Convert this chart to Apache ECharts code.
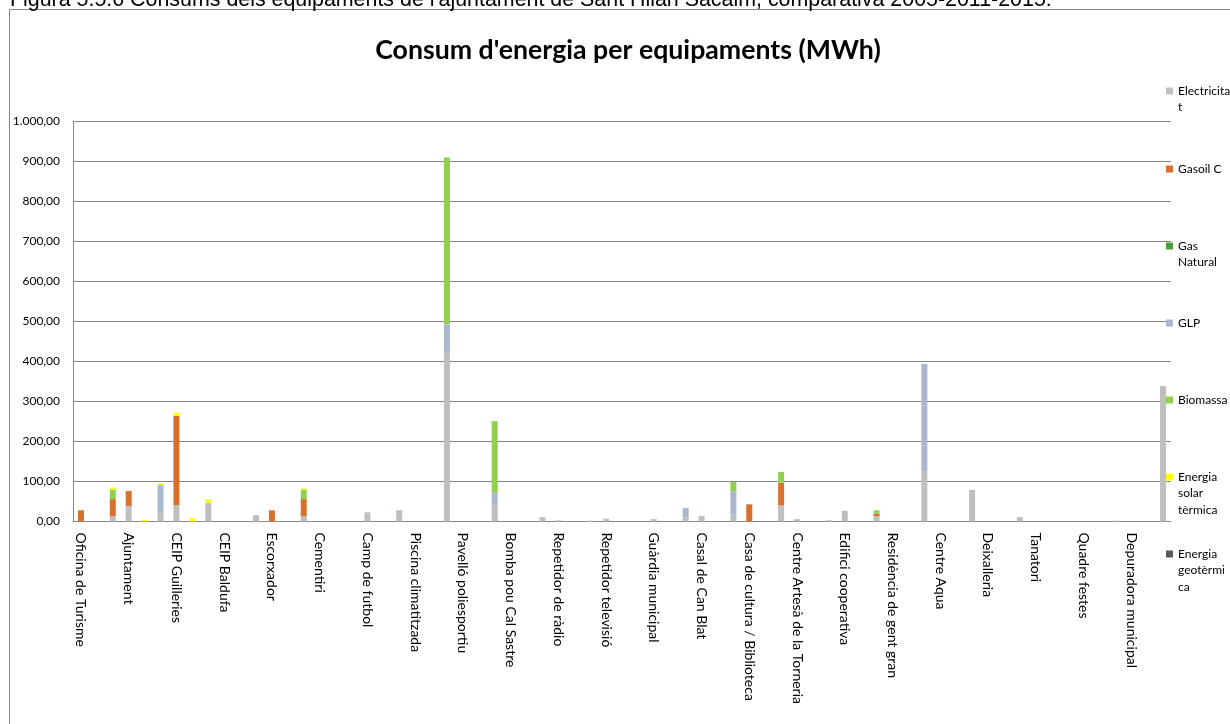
<!DOCTYPE html>
<html><head><meta charset="utf-8">
<script src="https://cdn.jsdelivr.net/npm/echarts@6/dist/echarts.min.js"></script>
<style>html,body{margin:0;padding:0;background:#fff}#c{width:1230px;height:724px}</style>
</head><body><div id="c"></div>
<script>
// Facilities (one tick label per group of 3 slots)
const facilities = ['Oficina de Turisme','Ajuntament','CEIP Guilleries','CEIP Baldufa','Escorxador','Cementiri','Camp de futbol','Piscina climatitzada','Pavelló poliesportiu','Bomba pou Cal Sastre','Repetidor de ràdio','Repetidor televisió','Guàrdia municipal','Casal de Can Blat','Casa de cultura / Biblioteca','Centre Artesà de la Torneria','Edifici cooperativa','Residència de gent gran','Centre Aqua','Deixalleria','Tanatori','Quadre festes','Depuradora municipal'];
const slotsPerFacility = 3;
const seriesNames = ['Electricitat','Gasoil C','Gas Natural','GLP','Biomassa','Energia solar tèrmica','Energia geotèrmica'];
const legendLabels = ['Electricita\nt','Gasoil C','Gas\nNatural','GLP','Biomassa','Energia\nsolar\ntèrmica','Energia\ngeotèrmi\nca'];
const yTicks = [0,100,200,300,400,500,600,700,800,900,1000];

// Values (MWh), 3 slots per facility
const electricitat = [0,0,13, 39,0,22, 41,0,47, 0,0,16, 0,0,13, 0,0,0, 23,0,21, 0,0,426, 0,0,43, 0,0,11, 3,0,2, 7,0,0, 6,0,10, 14,0,18, 0,0,40, 6,0,3, 27,0,13, 0,0,126, 0,0,79, 0,0,11, 0,0,0, 0,0,2, 0,0,339];
const gasoilC      = [28,0,43, 37,0,0, 223,0,0, 0,0,0, 28,0,43, 0,0,0, 0,0,0, 0,0,0, 0,0,0, 0,0,0, 0,0,0, 0,0,0, 0,0,0, 0,0,0, 43,0,57, 0,0,0, 0,0,7, 0,0,0, 0,0,0, 0,0,0, 0,0,0, 0,0,0, 0,0,0];
const gasNatural   = [0,0,0, 0,0,0, 0,0,0, 0,0,0, 0,0,0, 0,0,0, 0,0,0, 0,0,0, 0,0,0, 0,0,0, 0,0,0, 0,0,0, 0,0,0, 0,0,0, 0,0,0, 0,0,0, 0,0,0, 0,0,0, 0,0,0, 0,0,0, 0,0,0, 0,0,0, 0,0,0];
const glp          = [0,0,0, 0,0,69, 0,0,0, 0,0,0, 0,0,0, 0,0,0, 0,0,7, 0,0,67, 0,0,29, 0,0,0, 0,0,0, 0,0,0, 0,0,24, 0,0,57, 0,0,0, 0,0,0, 0,0,0, 0,0,268, 0,0,0, 0,0,0, 0,0,0, 0,0,0, 0,0,0];
const biomassa     = [0,0,24, 0,0,0, 0,0,0, 0,0,0, 0,0,24, 0,0,0, 0,0,0, 0,0,417, 0,0,179, 0,0,0, 0,0,0, 0,0,0, 0,0,0, 0,0,24, 0,0,27, 0,0,0, 0,0,8, 0,0,0, 0,0,0, 0,0,0, 0,0,0, 0,0,0, 0,0,0];
const solarTermica = [0,0,5, 0,4,4, 8,8,8, 0,0,0, 0,0,3, 0,0,0, 0,0,0, 0,0,0, 0,0,0, 0,0,0, 0,0,0, 0,0,0, 0,0,0, 0,0,0, 0,0,0, 0,0,0, 0,0,0, 0,0,0, 0,0,0, 0,0,0, 0,0,0, 0,0,0, 0,0,0];
const geotermica   = [0,0,0, 0,0,0, 0,0,0, 0,0,0, 0,0,0, 0,0,0, 0,0,0, 0,0,0, 0,0,0, 0,0,0, 0,0,0, 0,0,0, 0,0,0, 0,0,0, 0,0,0, 0,0,0, 0,0,0, 0,0,0, 0,0,0, 0,0,0, 0,0,0, 0,0,0, 0,0,0];

const seriesData = [electricitat, gasoilC, gasNatural, glp, biomassa, solarTermica, geotermica];
const colors = ['#BFBFBF','#D8702E','#4E9B38','#A9B8CE','#92D050','#FFFF00','#595959'];
const legendCenters = [91,169,246,323,400,477,554];

const slotIds = [];
facilities.forEach((f, k) => { for (let j = 0; j < slotsPerFacility; j++) slotIds.push(k + '_' + j); });

function fmt(v){ const s = Number(v).toFixed(2).split('.'); return s[0].replace(/\B(?=(\d{3})+(?!\d))/g,'.') + ',' + s[1]; }

const FONT = 'Lato';
const LH = 16.5;
const legends = seriesNames.map((name, i) => {
  const n = legendLabels[i].split('\n').length;
  // blank lines above keep the first text line level with the marker
  const shown = '\n'.repeat(n - 1) + legendLabels[i];
  return {
    data: [name], left: 1166, top: legendCenters[i] - (2*n - 1) * LH / 2, padding: 0,
    orient: 'vertical', icon: 'rect', itemWidth: 7, itemHeight: 7, selectedMode: false,
    formatter: () => shown,
    textStyle: { fontFamily: FONT, fontSize: 12, color: '#000', lineHeight: LH }
  };
});

const chart = echarts.init(document.getElementById('c'), null, {renderer: 'canvas'});
chart.setOption({
  animation: false,
  backgroundColor: '#fff',
  color: colors,
  graphic: [
    { type: 'rect', shape: {x: 9.5, y: 9.5, width: 1400, height: 900}, style: {fill: 'none', stroke: '#868686', lineWidth: 1}, silent: true, z: -10 },
    { type: 'text', x: 10, y: 0, style: {text: "Figura 5.5.6 Consums dels equipaments de l'ajuntament de Sant Hilari Sacalm, comparativa 2005-2011-2015.", font: '21.4px "Liberation Sans"', fill: '#000', textAlign: 'left', textVerticalAlign: 'middle', align: 'left', verticalAlign: 'middle'}, silent: true },
    { type: 'text', x: 628, y: 50, style: {text: "Consum d'energia per equipaments (MWh)", font: 'bold 26.7px Lato', fill: '#000', textAlign: 'center', textVerticalAlign: 'middle', align: 'center', verticalAlign: 'middle'}, silent: true }
  ],
  legend: legends,
  grid: { left: 73, right: 59, top: 121.5, bottom: 202.5, containLabel: false },
  xAxis: {
    type: 'category', data: slotIds, boundaryGap: true,
    axisLine: { lineStyle: { color: '#868686', width: 1 } },
    axisTick: { show: false },
    axisLabel: { interval: 0, rotate: -90, margin: 11, fontFamily: FONT, fontSize: 14, color: '#000',
      formatter: (v, idx) => (idx % slotsPerFacility === 0 ? facilities[idx / slotsPerFacility] : '') }
  },
  yAxis: {
    type: 'value', min: yTicks[0], max: yTicks[yTicks.length-1], interval: yTicks[1]-yTicks[0],
    axisLine: { show: true, lineStyle: { color: '#868686', width: 1 } },
    axisTick: { show: false },
    splitLine: { lineStyle: { color: '#868686', width: 1 } },
    axisLabel: { margin: 13, fontFamily: FONT, fontSize: 12, color: '#000', formatter: fmt }
  },
  series: seriesNames.map((name, i) => ({
    name, type: 'bar', stack: 'total', barWidth: 6, data: seriesData[i],
    itemStyle: { color: colors[i] }
  }))
});
</script></body></html>
